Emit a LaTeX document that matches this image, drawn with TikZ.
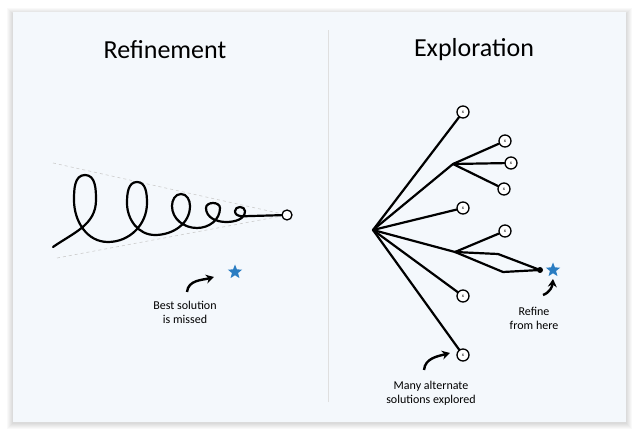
\documentclass[tikz,border=0pt]{standalone}
\usepackage{fontspec}
\setmainfont{Carlito}
\usetikzlibrary{shapes.geometric,arrows.meta}
\definecolor{cardbg}{HTML}{F4F8FC}
\definecolor{starblue}{HTML}{2A7DC2}

\begin{document}
\begin{tikzpicture}[x=1pt,y=1pt,
    ink/.style={line width=2.2pt, line cap=round, line join=round},
    leaf/.style={draw, circle, line width=1.3pt, fill=white, minimum size=12pt, inner sep=0pt, font=\fontsize{5}{5}\selectfont},
    beststar/.style={star, star points=5, star point ratio=2.3, fill=starblue, minimum size=15pt, inner sep=0pt},
    hint/.style={line width=2.4pt, -{Stealth[length=8pt,width=9pt]}},
    note/.style={align=center, font=\fontsize{12}{14}\selectfont},
    guide/.style={gray!40, line width=0.6pt, dash pattern=on 3pt off 3pt}]

    % Page, soft shadow and card
    \useasboundingbox (0,0) rectangle (642,439);
    \fill[white] (0,0) rectangle (642,439);
    \foreach \s in {1,2,...,6} {
        \fill[black, opacity=0.025] (13-\s,17-\s-1) rectangle (626+\s,427+\s-2);
    }
    \fill[cardbg] (13,17) rectangle (626,427);
    \draw[gray!25, line width=0.8pt] (328,37) -- (328,409); % middle divider

    % Titles
    \node[font=\fontsize{26}{30}\selectfont] (reftitle) at (165,389) {Refinement};
    \node[font=\fontsize{26}{30}\selectfont] (exptitle) at (474,389) {Exploration};

    % Left panel: spiral closing in on one point
    \node[leaf, minimum size=10pt] (goal) at (287,224) {};
    \draw[guide] (53,276) -- (goal);
    \draw[guide] (57,181) -- (goal);
    \draw[ink] (53,192)
        \foreach \tx/\ty/\w/\sy/\bx/\by/\o in {85/264/11/239/108/197/35, 137/257/10/236/155/204/0,
                                               181/245/9/233/197/211/0, 213/236/7/231/226/217/0,
                                               240/232/5/228/252/223/0} {
            to[out=\o,in=-90] (\tx+\w,\sy) to[out=90,in=0] (\tx,\ty)
            to[out=180,in=90] (\tx-\w,\sy) to[out=-90,in=180] (\bx,\by)
        } -- (goal);

    \node[beststar] (missed) at (235,167) {};
    \coordinate (missedtail) at (187,147);
    \coordinate (missedhead) at (214,162);
    \draw[hint] (missedtail) to[out=85,in=195] (missedhead);
    \node[note] (missednote) at (185,127) {Best solution\\is missed};

    % Right panel: many branches from one root
    \coordinate (root) at (373,209);
    \coordinate (fork1) at (453,275);
    \coordinate (fork2) at (455,187);
    \coordinate (bendup) at (498,185);
    \coordinate (benddown) at (503,167);
    \foreach \name/\x/\y in {c1/463/327, c2/505/298, c3/511/276, c4/504/250,
                             c5/463/231, c6/505/208, c7/463/143, c8/463/84} {
        \node[leaf] (\name) at (\x,\y) {x};
    }
    \node[circle, fill=black, inner sep=0pt, minimum size=6pt] (refined) at (540,169) {};
    \node[beststar] (found) at (553,169) {};

    \draw[ink] (root) -- (c1);
    \draw[ink] (root) -- (fork1);
    \draw[ink] (root) -- (c5);
    \draw[ink] (root) -- (fork2);
    \draw[ink] (root) -- (c7);
    \draw[ink] (root) -- (c8);
    \foreach \leafname in {c2,c3,c4} {
        \draw[ink] (fork1) -- (\leafname);
    }
    \draw[ink] (fork2) -- (c6);
    \draw[ink] (fork2) -- (bendup) -- (refined.center);
    \draw[ink] (fork2) -- (benddown) -- (refined.center);

    % Notes with curved arrows
    \coordinate (refinetail) at (543,144);
    \coordinate (refinehead) at (553,160);
    \draw[hint] (refinetail) to[out=20,in=-95] (refinehead);
    \node[note] (refinenote) at (534,121) {Refine\\from here};

    \coordinate (manytail) at (424,69);
    \coordinate (manyhead) at (450,86);
    \draw[hint] (manytail) to[out=85,in=195] (manyhead);
    \node[note] (manynote) at (431,46) {Many alternate\\solutions explored};
\end{tikzpicture}
\end{document}
